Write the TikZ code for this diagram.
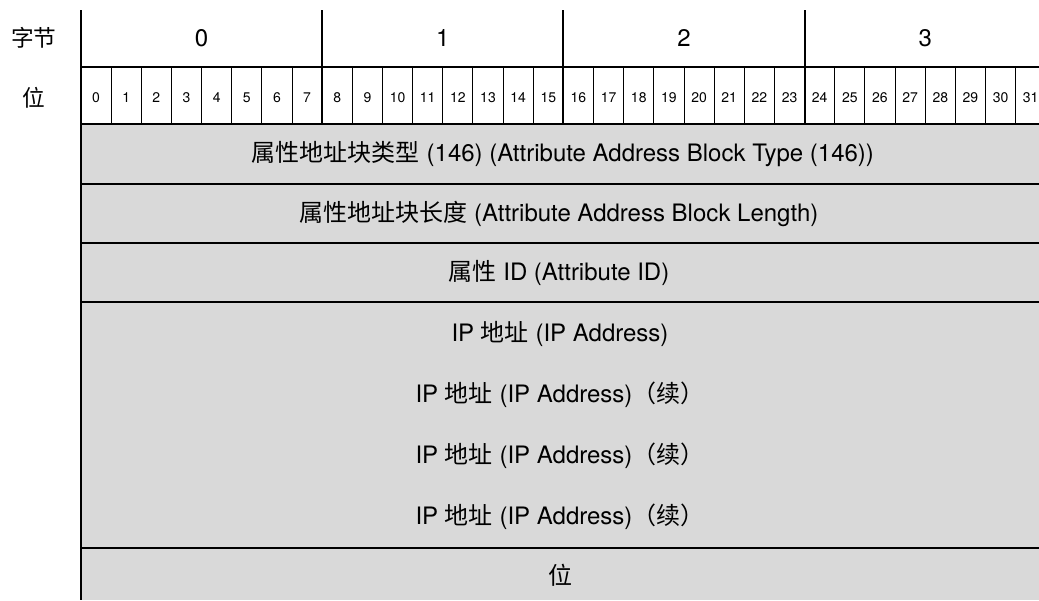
\documentclass[tikz,border=0pt]{standalone}
\usepackage{fontspec}
\setmainfont{TeX Gyre Heros}
\newfontfamily\cjk{Noto Sans CJK SC}
\definecolor{cellgray}{HTML}{D9D9D9}
\newcommand{\zh}[1]{{\cjk #1}}
\begin{document}
\begin{tikzpicture}[x=0.75pt,y=-0.75pt,
  thick line/.style={line width=1.5pt,black},
  thin line/.style={line width=0.75pt,black},
  bitnum/.style={font=\fontsize{10.5}{12}\selectfont,inner sep=0pt},
  bytenum/.style={font=\fontsize{18}{20}\selectfont,inner sep=0pt},
  field/.style={font=\fontsize{18}{20}\selectfont,inner sep=0pt},
  sidelabel/.style={font=\cjk\fontsize{17}{19}\selectfont,inner sep=0pt}]
\useasboundingbox (0,0) rectangle (1039,600);
\fill[cellgray] (81,124) rectangle (1039,600);
% internal bit dividers
\foreach \i in {1,...,31}{
  \pgfmathtruncatemacro{\r}{mod(\i,8)}
  \ifnum\r=0\else
    \draw[thin line] ({81+30.15*\i},67) -- ({81+30.15*\i},124);
  \fi
}
% byte dividers
\foreach \i in {1,2,3}{
  \draw[thick line] ({81+30.15*8*\i},10) -- ({81+30.15*8*\i},124);
}
% left border
\draw[thick line] (81,10) -- (81,600);
% horizontal lines
\foreach \y in {67,124,184,243,302,548}{
  \draw[thick line] (81,\y) -- (1039,\y);
}
% side labels
\node[sidelabel] (lbyte) at (34,38) {字节};
\node[sidelabel] (lbit) at (34,98) {位};
% byte numbers
\foreach \i in {0,1,2,3}{
  \node[bytenum] (b\i) at ({81+30.15*(8*\i+4)},38) {\i};
}
% bit numbers
\foreach \i in {0,...,31}{
  \node[bitnum] (n\i) at ({81+30.15*(\i+0.5)},98) {\i};
}
% fields
\node[field] (f1) at (563,154) {\zh{属性地址块类型} (146) (Attribute Address Block Type (146))};
\node[field] (f2) at (559,213.5) {\zh{属性地址块长度} (Attribute Address Block Length)};
\node[field] (f3) at (559,272.5) {\zh{属性} ID (Attribute ID)};
\node[field] (f4) at (560,334) {IP \zh{地址} (IP Address)};
\node[field] (f5) at (560,395) {IP \zh{地址} (IP Address)\zh{（续）}};
\node[field] (f6) at (560,456) {IP \zh{地址} (IP Address)\zh{（续）}};
\node[field] (f7) at (560,517) {IP \zh{地址} (IP Address)\zh{（续）}};
\node[field] (f8) at (560,575) {\zh{位}};
\end{tikzpicture}
\end{document}
